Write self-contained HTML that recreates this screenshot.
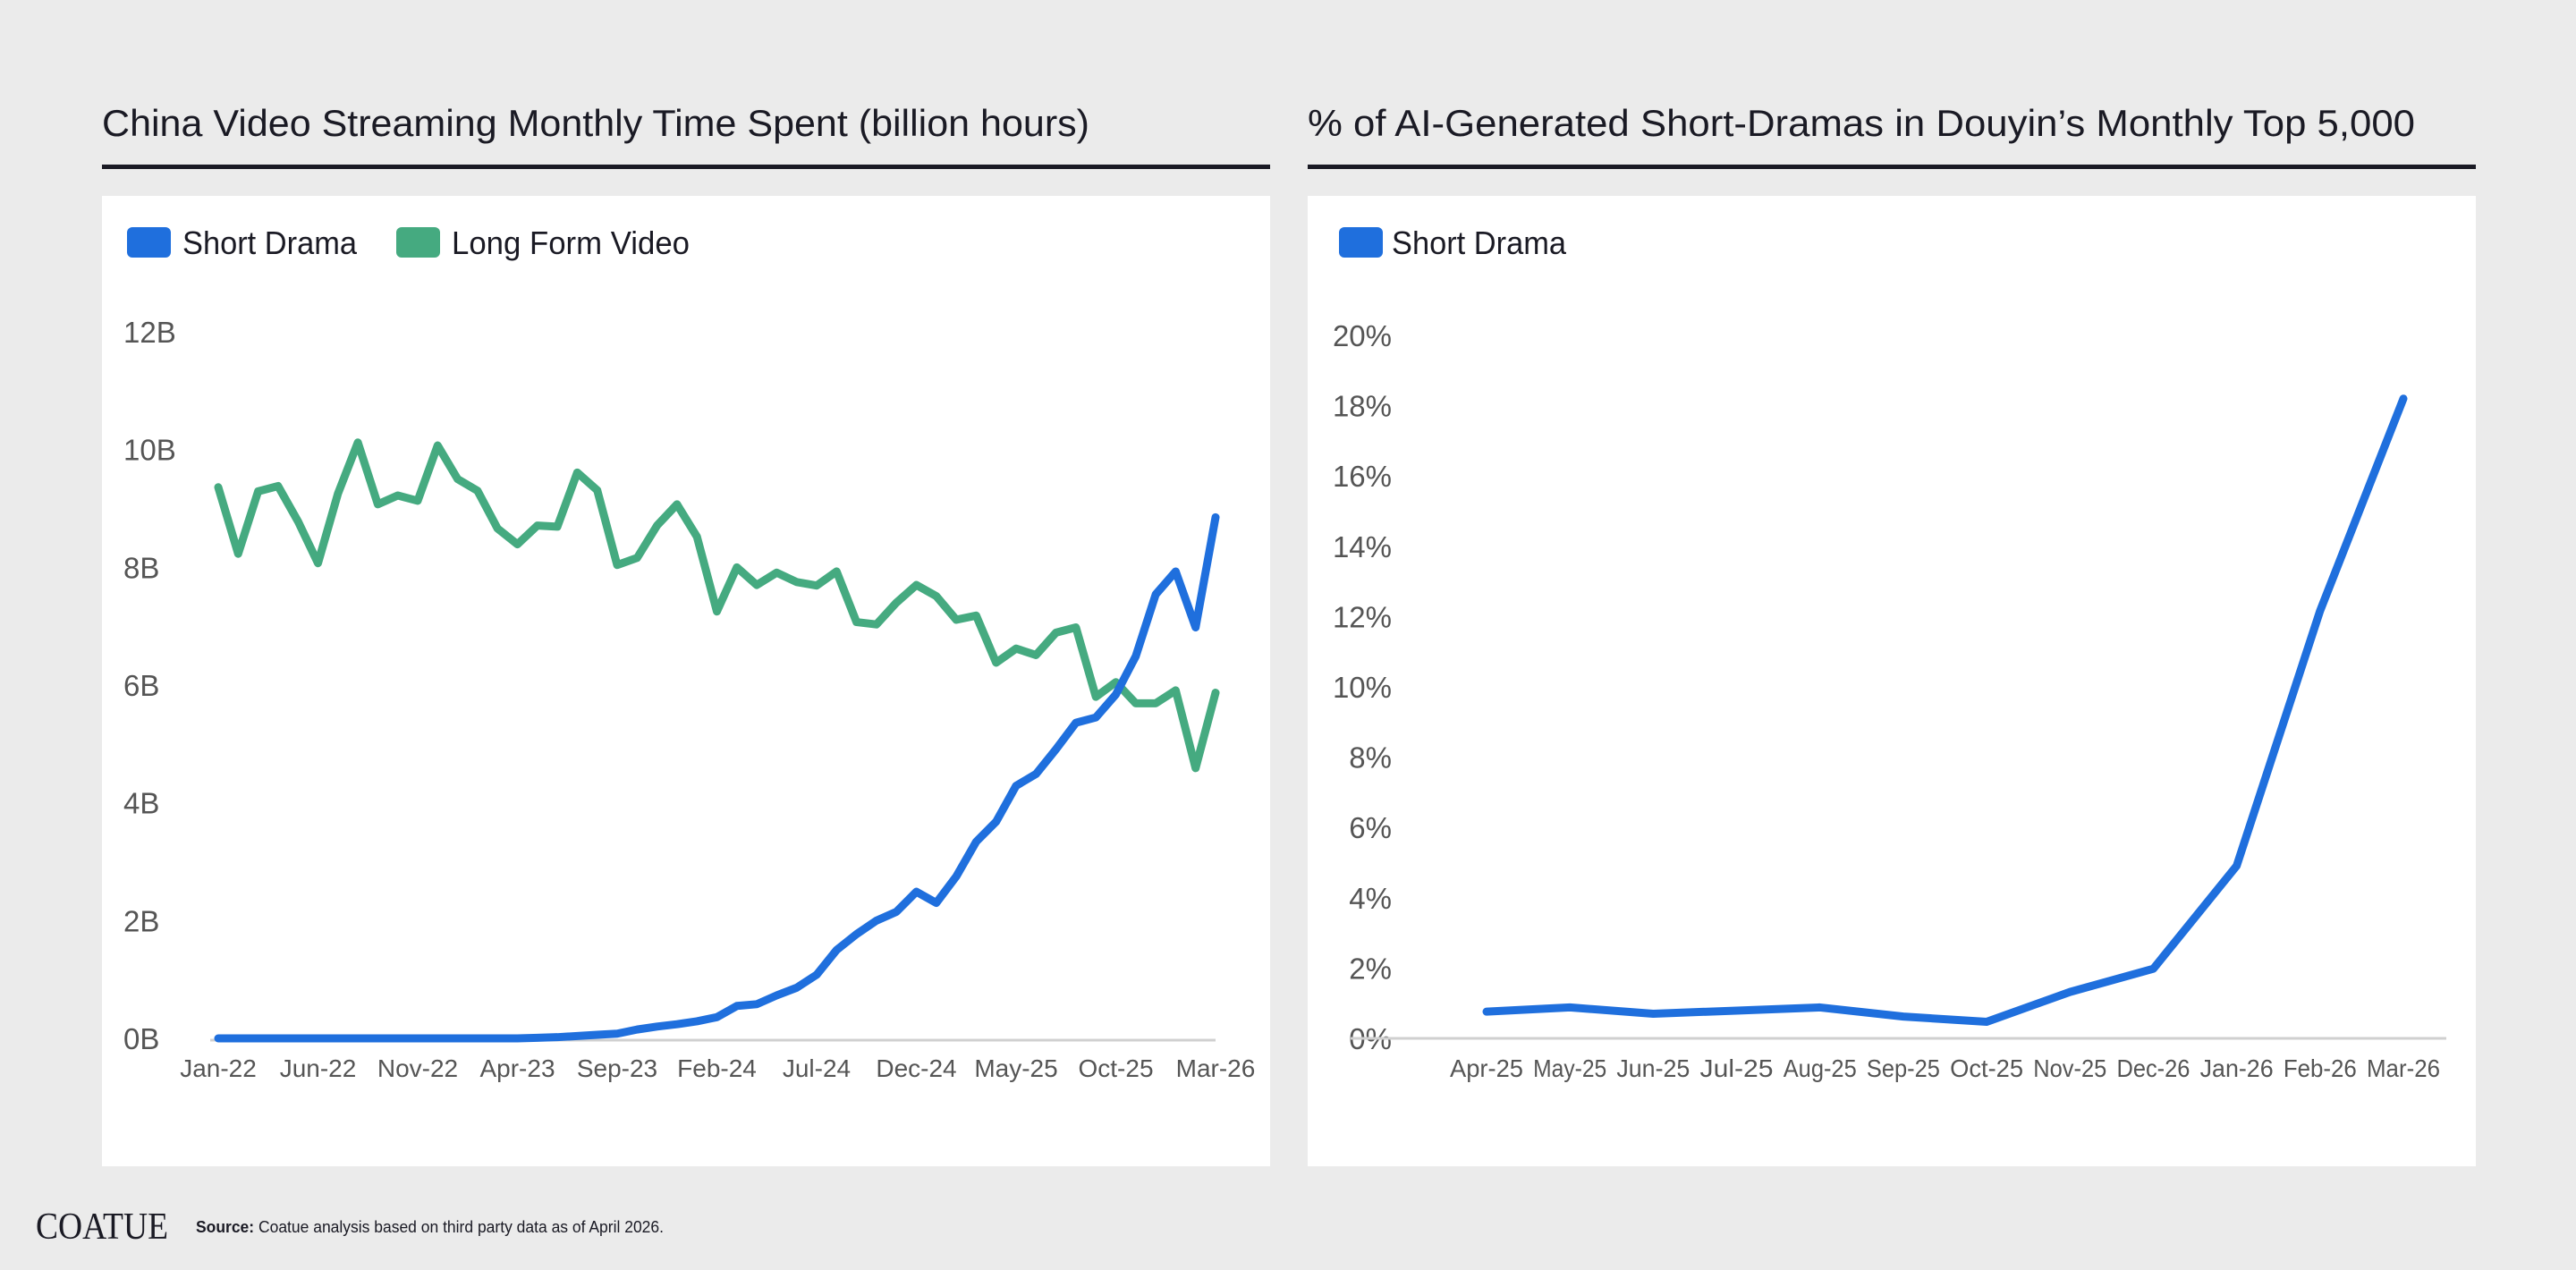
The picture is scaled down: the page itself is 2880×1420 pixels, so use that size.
<!DOCTYPE html>
<html><head><meta charset="utf-8"><style>
html,body{margin:0;padding:0;background:#ebebeb;}
svg{display:block;font-family:"Liberation Sans",Arial,sans-serif;}
</style></head><body>
<svg id="root" width="2880" height="1420" viewBox="0 0 2880 1420" xmlns="http://www.w3.org/2000/svg">
<rect x="0" y="0" width="2880" height="1420" fill="#ebebeb"/>
<text x="114" y="152" font-size="42" fill="#1a1a24" textLength="1104" lengthAdjust="spacingAndGlyphs">China Video Streaming Monthly Time Spent (billion hours)</text>
<rect x="114" y="184" width="1306" height="5" fill="#1a1a24"/>
<text x="1462" y="152" font-size="42" fill="#1a1a24" textLength="1238" lengthAdjust="spacingAndGlyphs">% of AI-Generated Short-Dramas in Douyin’s Monthly Top 5,000</text>
<rect x="1462" y="184" width="1306" height="5" fill="#1a1a24"/>
<rect x="114" y="219" width="1306" height="1085" fill="#fff"/>
<rect x="1462" y="219" width="1306" height="1085" fill="#fff"/>
<g>
<rect x="142" y="254" width="49" height="34" rx="6" fill="#1f6fdd"/>
<text x="204" y="284" font-size="36" fill="#1a1a24" textLength="195" lengthAdjust="spacingAndGlyphs">Short Drama</text>
<rect x="443" y="254" width="49" height="34" rx="6" fill="#45aa80"/>
<text x="505" y="284" font-size="36" fill="#1a1a24" textLength="266" lengthAdjust="spacingAndGlyphs">Long Form Video</text>
</g>
<g>
<rect x="1497" y="254" width="49" height="34" rx="6" fill="#1f6fdd"/>
<text x="1556" y="284" font-size="36" fill="#1a1a24" textLength="195" lengthAdjust="spacingAndGlyphs">Short Drama</text>
</g>
<g id="left-chart"></g>
<g id="right-chart"></g>
<text x="40" y="1385" font-size="42" fill="#1a1a24" font-family="Liberation Serif, serif" textLength="148" lengthAdjust="spacingAndGlyphs">COATUE</text>
<text x="219" y="1378" font-size="18" fill="#1a1a24" textLength="523" lengthAdjust="spacingAndGlyphs"><tspan font-weight="bold">Source:</tspan> Coatue analysis based on third party data as of April 2026.</text>
</svg>
<script>
const leftTickValues = [0, 2, 4, 6, 8, 10, 12];
const leftTickLabels = ["0B", "2B", "4B", "6B", "8B", "10B", "12B"];
const leftXLabels = ["Jan-22","Jun-22","Nov-22","Apr-23","Sep-23","Feb-24","Jul-24","Dec-24","May-25","Oct-25","Mar-26"];
const leftXLabelIndex = [0,5,10,15,20,25,30,35,40,45,50];
const shortDrama = [0,0,0,0,0,0,0,0,0,0,0,0, 0,0,0,0,0.01,0.02,0.04,0.06,0.08,0.15,0.2,0.24, 0.29,0.36,0.55,0.58,0.73,0.86,1.08,1.5,1.77,2.0,2.15,2.49, 2.3,2.75,3.34,3.68,4.29,4.49,4.91,5.36,5.45,5.84,6.49,7.54, 7.93,6.98,8.85];
const longForm = [9.36,8.23,9.29,9.38,8.78,8.07,9.25,10.12,9.07,9.22,9.13,10.07, 9.5,9.3,8.66,8.39,8.71,8.69,9.61,9.31,8.04,8.16,8.71,9.07, 8.52,7.25,8.0,7.7,7.91,7.75,7.69,7.93,7.07,7.03,7.4,7.7, 7.51,7.11,7.18,6.38,6.62,6.51,6.89,6.98,5.8,6.05,5.69,5.69, 5.91,4.59,5.87];

const rightTickValues = [0,2,4,6,8,10,12,14,16,18,20];
const rightTickLabels = ["0%","2%","4%","6%","8%","10%","12%","14%","16%","18%","20%"];
const rightCategories = ["Apr-25","May-25","Jun-25","Jul-25","Aug-25","Sep-25","Oct-25","Nov-25","Dec-26","Jan-26","Feb-26","Mar-26"];
const aiShare = [0.76,0.88,0.70,0.79,0.88,0.62,0.47,1.32,1.98,4.91,12.16,18.2];

const NS = "http://www.w3.org/2000/svg";
function mk(parent, tag, attrs, text) {
  const e = document.createElementNS(NS, tag);
  for (const k in attrs) e.setAttribute(k, attrs[k]);
  if (text !== undefined) e.textContent = text;
  parent.appendChild(e);
  return e;
}

// Left chart
(function () {
  const g = document.getElementById("left-chart");
  const x0 = 244, x1 = 1359, yBase = 1161, yTop = 371;
  const n = longForm.length;
  const xs = i => x0 + (x1 - x0) * i / (n - 1);
  const ys = v => yBase - (yBase - yTop) * v / 12;
  leftTickValues.forEach((v, i) => {
    const t = mk(g, "text", {x: 138, y: ys(v) + 12, "font-size": 33, fill: "#555"}, leftTickLabels[i]);
    
    
  });
  const ax = mk(g, "line", {x1: 235, x2: 1359, y1: yBase + 2, y2: yBase + 2, stroke: "#d0d0d0", "stroke-width": 3});
  
  
  leftXLabels.forEach((lab, i) => {
    const t = mk(g, "text", {x: xs(leftXLabelIndex[i]), y: 1204, "font-size": 28, fill: "#555", "text-anchor": "middle"}, lab);
    
    
  });
  const lf = mk(g, "polyline", {points: longForm.map((v, i) => xs(i) + "," + ys(v)).join(" "), fill: "none", stroke: "#45aa80", "stroke-width": 9, "stroke-linejoin": "round", "stroke-linecap": "round"});
  
  
  const sd = mk(g, "polyline", {points: shortDrama.map((v, i) => xs(i) + "," + ys(v)).join(" "), fill: "none", stroke: "#1f6fdd", "stroke-width": 9, "stroke-linejoin": "round", "stroke-linecap": "round"});
  
  
})();

// Right chart
(function () {
  const g = document.getElementById("right-chart");
  const x0 = 1662, x1 = 2687, yBase = 1161, yTop = 375;
  const n = aiShare.length;
  const xs = i => x0 + (x1 - x0) * i / (n - 1);
  const ys = v => yBase - (yBase - yTop) * v / 20;
  rightTickValues.forEach((v, i) => {
    const t = mk(g, "text", {x: 1556, y: ys(v) + 12, "font-size": 33, fill: "#555", "text-anchor": "end"}, rightTickLabels[i]);
    
    
  });
  const ax = mk(g, "line", {x1: 1510, x2: 2735, y1: yBase, y2: yBase, stroke: "#d0d0d0", "stroke-width": 3});
  
  
  rightCategories.forEach((lab, i) => {
    const t = mk(g, "text", {x: xs(i), y: 1204, "font-size": 28, fill: "#555", "text-anchor": "middle", textLength: 82, lengthAdjust: "spacingAndGlyphs"}, lab);
    
    
  });
  const ln = mk(g, "polyline", {points: aiShare.map((v, i) => xs(i) + "," + ys(v)).join(" "), fill: "none", stroke: "#1f6fdd", "stroke-width": 9, "stroke-linejoin": "round", "stroke-linecap": "round"});
  
  
})();
</script>
</body></html>
